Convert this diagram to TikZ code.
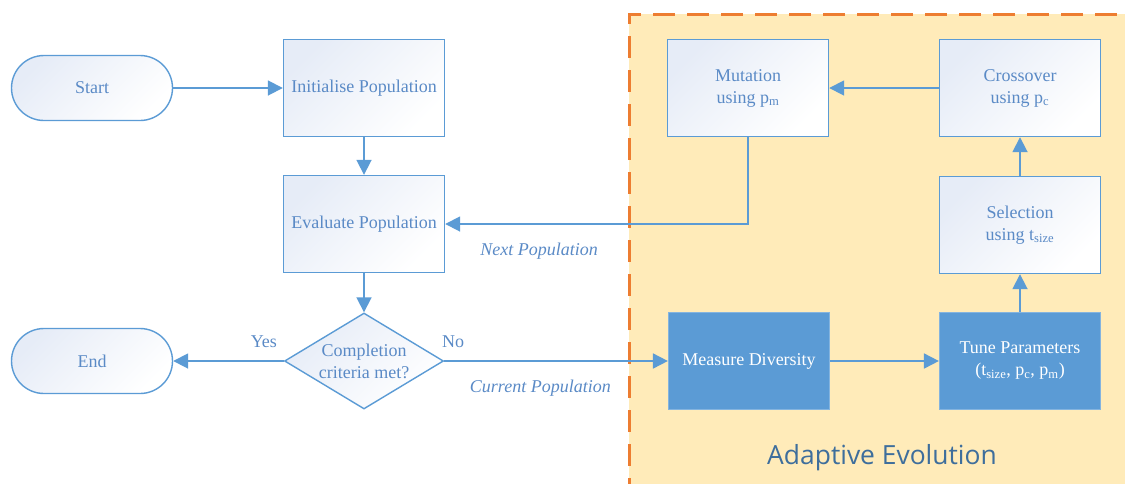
\documentclass[tikz,border=0pt]{standalone}
\usepackage{fontspec}
\setmainfont{Liberation Serif}
\newfontfamily\regionfont{Open Sans}
\usetikzlibrary{shapes.geometric,arrows.meta}
\definecolor{flowblue}{HTML}{5B9BD5}
\definecolor{flowtext}{HTML}{5A8AC6}
\definecolor{boxtint}{HTML}{E6ECF7}
\definecolor{regionfill}{HTML}{FFEBB9}
\definecolor{regionline}{HTML}{ED7D31}
\definecolor{regiontext}{HTML}{3E6E9C}

\begin{document}
\begin{tikzpicture}[x=1pt,y=-1pt,
  font=\fontsize{18}{22}\selectfont,
  procbox/.style={draw=flowblue,line width=1.4pt,top color=boxtint,bottom color=white,shading angle=45,
    minimum width=161pt,minimum height=97pt,align=center,text=flowtext},
  termbox/.style={procbox,minimum height=65pt,rounded corners=32.5pt},
  tunebox/.style={draw=flowblue!75!white,line width=1.2pt,fill=flowblue,
    minimum width=161pt,minimum height=97pt,align=center,text=white},
  testbox/.style={diamond,draw=flowblue,line width=1.4pt,top color=boxtint,bottom color=white,shading angle=45,
    aspect=1.66,minimum width=159pt,minimum height=96pt,inner sep=0pt,align=center,text=flowtext},
  flow/.style={draw=flowblue,line width=1.8pt,-{Triangle[length=15pt,width=15pt]}},
  flowlabel/.style={text=flowtext}]
\useasboundingbox (0,0) rectangle (1125,483);
\clip (0,0) rectangle (1125,483);
% adaptive part
\fill [regionfill] (629,14) rectangle (1140,500);
\draw [regionline,line width=3pt,dash pattern=on 22pt off 12pt] (629,500) -- (629,14) -- (1140,14);
\node [text=regiontext,font=\regionfont\fontsize{26.4}{30}\selectfont] (region) at (882,458) {Adaptive Evolution};
% main loop
\node [termbox] (start) at (92,88) {Start};
\node [procbox] (init) at (364,88) {Initialise Population};
\node [procbox] (eval) at (364,224) {Evaluate Population};
\node [testbox] (done) at (364,361) {Completion\\criteria met?};
\node [termbox] (end) at (92,361) {End};
\node [procbox] (mutate) at (748,88) {Mutation\\using p\textsubscript{m}};
\node [procbox] (cross) at (1020,88) {Crossover\\using p\textsubscript{c}};
\node [procbox] (select) at (1020,225) {Selection\\using t\textsubscript{size}};
\node [tunebox] (measure) at (749,361) {Measure Diversity};
\node [tunebox] (tune) at (1020,361) {Tune Parameters\\(t\textsubscript{size}, p\textsubscript{c}, p\textsubscript{m})};
\draw [flow] (start) -- (init);
\draw [flow] (init) -- (eval);
\draw [flow] (eval) -- (done);
\draw [flow] (done) -- node [flowlabel,above=9pt,pos=0.18] {Yes} (end);
\draw [flow] (done) -- node [flowlabel,above=9pt,pos=0.04] {No} node [flowlabel,below=15pt,pos=0.43] {\itshape Current Population} (measure);
\draw [flow] (measure) -- (tune);
\draw [flow] (tune) -- (select);
\draw [flow] (select) -- (cross);
\draw [flow] (cross) -- (mutate);
\draw [flow] (mutate) |- node [flowlabel,below=15pt,pos=0.845] {\itshape Next Population} (eval);
\end{tikzpicture}
\end{document}
